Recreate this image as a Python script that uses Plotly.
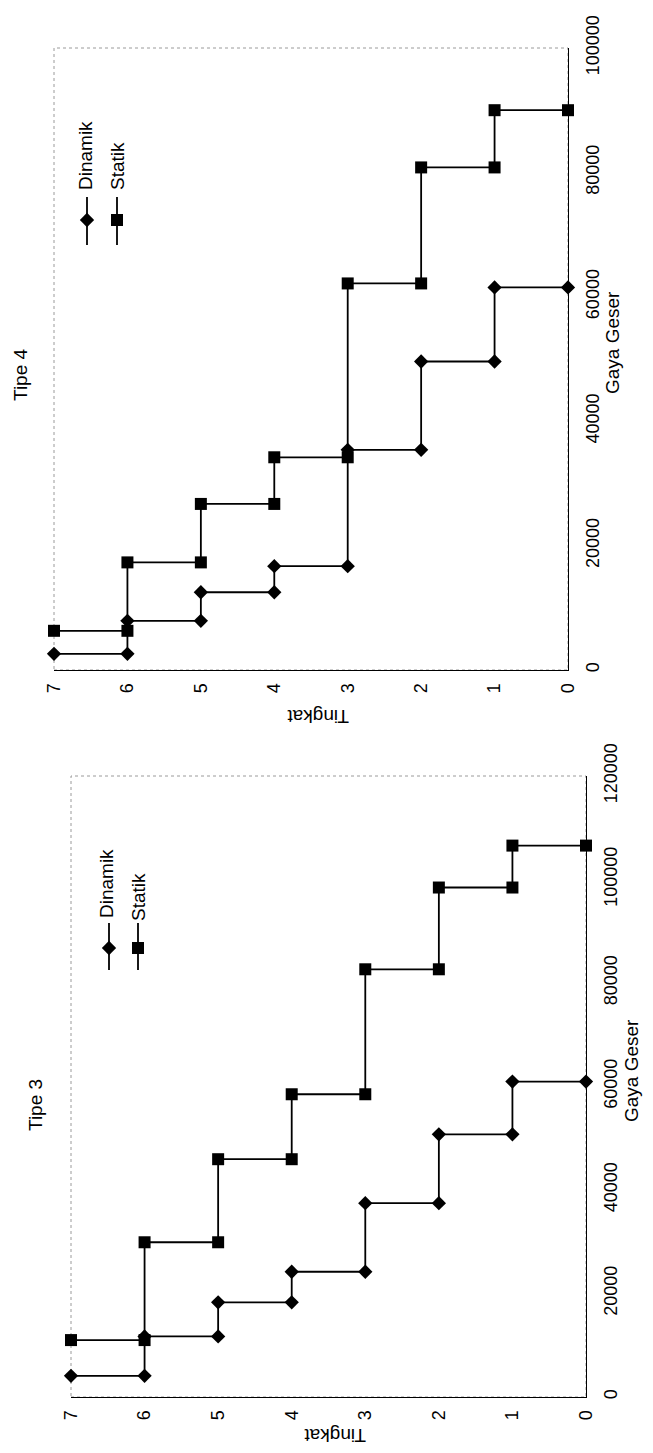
import plotly.graph_objects as go

W, H = 653, 1453
OFF = 8  # page body margin of the rendered html
FONT = "Liberation Sans, Arial, sans-serif"

# ---------------- data ----------------
tingkat = [7, 6, 6, 5, 5, 4, 4, 3, 3, 2, 2, 1, 1, 0]
tingkat_ticks = [0, 1, 2, 3, 4, 5, 6, 7]

tipe4_dinamik = [2600, 2600, 7900, 7900, 12500, 12500, 16700, 16700,
                 35400, 35400, 49600, 49600, 61500, 61500]
tipe4_statik = [6300, 6300, 17300, 17300, 26700, 26700, 34200, 34200,
                62150, 62150, 80800, 80800, 90000, 90000]

tipe3_dinamik = [4100, 4100, 11700, 11700, 18300, 18300, 24200, 24200,
                 37450, 37450, 50750, 50750, 60950, 60950]
tipe3_statik = [11000, 11000, 29900, 29900, 45950, 45950, 58500, 58500,
                82650, 82650, 98450, 98450, 106550, 106550]

gaya_ticks4 = [0, 20000, 40000, 60000, 80000, 100000]
gaya_ticks3 = [0, 20000, 40000, 60000, 80000, 100000, 120000]

series_names = ["Dinamik", "Statik"]
titles = ["Tipe 4", "Tipe 3"]
x_title = "Gaya Geser"
y_title = "Tingkat"

# ---------------- layout helpers (page pixel -> paper) ----------------
def dx(a, b):
    return [(a - OFF) / W, (b - OFF) / W]

def dy(top, bot):
    return [1 - (bot - OFF) / H, 1 - (top - OFF) / H]

def px(x):
    return (x - OFF) / W

def py(y):
    return 1 - (y - OFF) / H

line_style = dict(color="black", width=1.8)
dia = dict(symbol="diamond", size=11, color="black")
sq = dict(symbol="square", size=12, color="black")

fig = go.Figure()

panels = [
    dict(ax="x", ay="y", din=tipe4_dinamik, sta=tipe4_statik),
    dict(ax="x2", ay="y2", din=tipe3_dinamik, sta=tipe3_statik),
]
for p in panels:
    fig.add_trace(go.Scatter(x=tingkat, y=p["din"], mode="lines+markers",
                             line=line_style, marker=dia, xaxis=p["ax"], yaxis=p["ay"],
                             cliponaxis=False, showlegend=False, name=series_names[0]))
    fig.add_trace(go.Scatter(x=tingkat, y=p["sta"], mode="lines+markers",
                             line=line_style, marker=sq, xaxis=p["ax"], yaxis=p["ay"],
                             cliponaxis=False, showlegend=False, name=series_names[1]))

# manual rotated legends drawn on a full-page pixel overlay axis
legends = [
    dict(xs=[87, 117], y0=197, y1=245, ym=220),
    dict(xs=[109, 138], y0=923, y1=970, ym=948),
]
for lg in legends:
    for i, xx in enumerate(lg["xs"]):
        fig.add_trace(go.Scatter(x=[xx - OFF, xx - OFF], y=[lg["y0"] - OFF, lg["y1"] - OFF],
                                 mode="lines", line=dict(color="black", width=1.8),
                                 xaxis="x3", yaxis="y3", showlegend=False, hoverinfo="skip"))
        fig.add_trace(go.Scatter(x=[xx - OFF], y=[lg["ym"] - OFF], mode="markers",
                                 marker=dia if i == 0 else sq,
                                 xaxis="x3", yaxis="y3", showlegend=False, hoverinfo="skip"))

tick_font = dict(family=FONT, size=18, color="black")

common_x = dict(range=[7, 0], tickmode="array", tickvals=tingkat_ticks, tickangle=-90,
                showgrid=False, zeroline=False, showline=True, linecolor="black",
                linewidth=1, ticks="", tickfont=tick_font, ticklabelstandoff=5,
                automargin=False)
common_y = dict(side="right", tickmode="array", tickangle=-90, showgrid=False,
                zeroline=False, showline=True, linecolor="black", linewidth=1,
                ticks="", tickfont=tick_font, ticklabelstandoff=8, automargin=False)

fig.update_layout(
    template="none",
    width=W, height=H,
    margin=dict(l=0, r=0, t=0, b=0, pad=0, autoexpand=False),
    paper_bgcolor="white", plot_bgcolor="rgba(0,0,0,0)",
    font=dict(family=FONT, color="black"),
    showlegend=False,
    xaxis=dict(domain=dx(54, 568), anchor="y", **common_x),
    yaxis=dict(domain=dy(48, 670), anchor="x", range=[0, 100000],
               tickvals=gaya_ticks4, ticktext=[str(v) for v in gaya_ticks4], **common_y),
    xaxis2=dict(domain=dx(71, 586), anchor="y2", **common_x),
    yaxis2=dict(domain=dy(776, 1397), anchor="x2", range=[0, 120000],
                tickvals=gaya_ticks3, ticktext=[str(v) for v in gaya_ticks3], **common_y),
    xaxis3=dict(domain=[0, 1], range=[0, W], visible=False, anchor="y3",
                fixedrange=True, automargin=False),
    yaxis3=dict(domain=[0, 1], range=[H, 0], visible=False, anchor="x3",
                fixedrange=True, automargin=False),
)

# dotted plot-area frames
for xr, yr in [("x domain", "y domain"), ("x2 domain", "y2 domain")]:
    fig.add_shape(type="rect", xref=xr, yref=yr, x0=0, x1=1, y0=0, y1=1,
                  line=dict(color="#9a9a9a", width=1, dash="dot"), layer="below")

# rotated text annotations
def ann(text, x, y, angle, size):
    fig.add_annotation(text=text, x=px(x), y=py(y), xref="paper", yref="paper",
                       showarrow=False, textangle=angle, xanchor="center", yanchor="middle",
                       font=dict(family=FONT, size=size, color="black"))

ann(titles[0], 20, 375, -90, 19)
ann(titles[1], 35, 1105, -90, 19)
ann(x_title, 612, 343, -90, 19)
ann(x_title, 631, 1071, -90, 19)
ann(y_title, 318, 717, 180, 19)
ann(y_title, 335, 1436, 180, 19)
ann(series_names[0], 85, 156, -90, 19)
ann(series_names[1], 117, 166, -90, 19)
ann(series_names[0], 106, 884, -90, 19)
ann(series_names[1], 138, 897, -90, 19)

fig.write_html("out.html")
